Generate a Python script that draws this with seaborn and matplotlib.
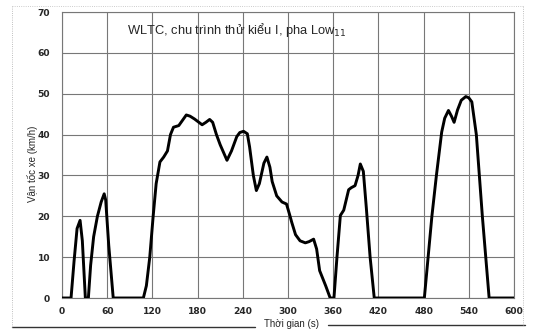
import matplotlib
matplotlib.use("Agg")
import matplotlib.pyplot as plt
import seaborn as sns
import pandas as pd
from matplotlib.lines import Line2D
from matplotlib.ticker import MultipleLocator

time_s = [0, 12, 16, 20, 24, 27, 31, 35, 38, 42, 47, 52, 56, 58, 62, 68,
          108, 112, 116.5, 121, 125, 130, 135, 140, 144, 148, 155, 160, 165,
          170, 176, 186, 191, 196, 200, 205, 210, 219, 225, 232, 236, 241,
          246, 249, 254, 258, 262, 268, 272, 276, 279, 285, 292, 298, 302,
          305, 310, 316, 323, 328, 334, 338, 342, 350, 356, 361, 365, 369.5,
          374, 380.5, 384, 389, 393, 396, 400, 404, 409, 414.5, 481, 486, 491,
          497, 504, 508, 513, 517, 520.5, 525, 530, 536, 540, 544, 550, 558,
          567, 600]
speed_kmh = [0, 0, 9, 17, 19, 14, 0, 0, 8, 15, 20, 23.5, 25.5, 24, 13, 0,
             0, 3, 10, 20, 28, 33.3, 34.5, 36, 40, 41.8, 42.2, 43.5, 44.8,
             44.5, 43.8, 42.4, 43, 43.7, 43, 40, 37.5, 33.7, 36, 39.5, 40.5, 40.8,
             40.2, 37, 30, 26.3, 28, 33, 34.5, 32, 28.5, 25, 23.5, 23, 20.5,
             18.5, 15.5, 14, 13.5, 13.8, 14.4, 12, 6.7, 3, 0, 0, 10, 20.2,
             21.5, 26.5, 27, 27.5, 30, 32.8, 31, 22, 10, 0, 0, 10, 20,
             30, 40.6, 44, 45.9, 44.5, 43, 46, 48.4, 49.3, 49, 48, 40, 20,
             0, 0]

x_ticks = [0, 60, 120, 180, 240, 300, 360, 420, 480, 540, 600]
y_ticks = [0, 10, 20, 30, 40, 50, 60, 70]
title = "WLTC, chu trình thử kiểu I, pha Low$_{11}$"
x_label = "Thời gian (s)"
y_label = "Vận tốc xe (km/h)"

sns.set_style("white")
plt.rcParams['font.family'] = ['Liberation Sans', 'DejaVu Sans']

df = pd.DataFrame({"t": time_s, "v": speed_kmh})

fig = plt.figure(figsize=(5.41, 3.34), dpi=100)
ax = fig.add_axes([62/541, 1-298/334, (514-62)/541, (298-12)/334])

sns.lineplot(data=df, x="t", y="v", ax=ax, sort=False, estimator=None,
             color="black", linewidth=2.1, zorder=3)

ax.set_xlim(0, 600)
ax.set_ylim(0, 70)
ax.set_xticks(x_ticks)
ax.set_yticks(y_ticks)
ax.xaxis.set_minor_locator(MultipleLocator(10))
ax.yaxis.set_minor_locator(MultipleLocator(2))
ax.grid(True, which="major", color="#777777", linewidth=0.8)
ax.tick_params(axis="both", which="major", length=3, width=0.8, color="#555",
               labelsize=6.6, direction="inout")
ax.tick_params(axis="y", which="major", pad=7)
ax.tick_params(axis="x", which="major", pad=5)
ax.tick_params(axis="both", which="minor", length=2.5, width=0.7, color="#666",
               direction="inout")
for lab in ax.get_xticklabels() + ax.get_yticklabels():
    lab.set_fontweight("bold")
    lab.set_family("DejaVu Sans")
for s in ax.spines.values():
    s.set_color("#777")
    s.set_linewidth(0.8)

ax.set_xlabel("")
ax.set_ylabel(y_label, fontsize=7)
ax.yaxis.set_label_coords(-0.052, 0.47)

ax.text(0.387, 0.937, title, transform=ax.transAxes, ha="center", va="center",
        fontsize=9.3)

fig.text(291/541, 1-324/334, x_label, ha="center", va="center", fontsize=7)

# decorative frame
fig.add_artist(Line2D([12/541, 255/541], [1-327/334, 1-327/334], color="#333", lw=1.0))
fig.add_artist(Line2D([328/541, 525/541], [1-325/334, 1-325/334], color="#333", lw=1.0))
fig.add_artist(Line2D([12/541, 12/541], [1-327/334, 1-6/334], color="#aaa", lw=0.6, ls=":"))
fig.add_artist(Line2D([523/541, 523/541], [1-325/334, 1-6/334], color="#aaa", lw=0.6, ls=":"))
fig.add_artist(Line2D([12/541, 523/541], [1-6/334, 1-6/334], color="#bbb", lw=0.6, ls=":"))

fig.savefig("out.png", dpi=100)
